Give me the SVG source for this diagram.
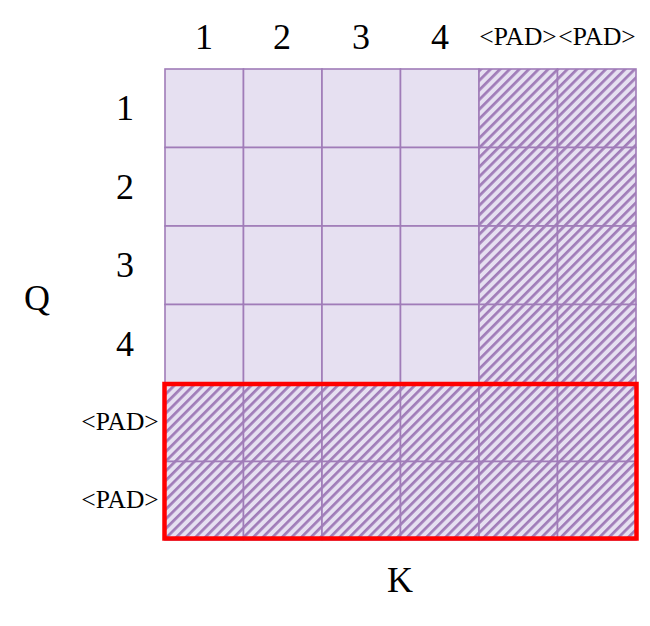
<svg xmlns="http://www.w3.org/2000/svg" width="650" height="626" viewBox="0 0 650 626">
<style>
.c{fill:#E6E0F1;stroke:#A07CB8;stroke-width:1.6}
.p{fill:url(#hatch);stroke:#A07CB8;stroke-width:1.6}
.t{font-family:"Liberation Serif","Times New Roman",serif;fill:#000;text-anchor:middle}
.big{font-size:36px}
.sm{font-size:25.5px}
</style>
<defs>
<pattern id="hatch" patternUnits="userSpaceOnUse" width="6.8" height="6.8" patternTransform="rotate(45)">
<rect width="6.8" height="6.8" fill="#E6E0F1"/>
<rect x="0" y="0" width="2.7" height="6.8" fill="#A07CB8"/>
</pattern>
</defs>
<rect width="650" height="626" fill="#fff"/>
<g id="grid">
<g id="row1">
<rect class="c" x="165" y="69" width="78.5" height="78.5"/>
<rect class="c" x="243.5" y="69" width="78.5" height="78.5"/>
<rect class="c" x="322" y="69" width="78.5" height="78.5"/>
<rect class="c" x="400.5" y="69" width="78.5" height="78.5"/>
<rect class="p" x="479" y="69" width="78.5" height="78.5"/>
<rect class="p" x="557.5" y="69" width="78.5" height="78.5"/>
</g>
<g id="row2">
<rect class="c" x="165" y="147.5" width="78.5" height="78.5"/>
<rect class="c" x="243.5" y="147.5" width="78.5" height="78.5"/>
<rect class="c" x="322" y="147.5" width="78.5" height="78.5"/>
<rect class="c" x="400.5" y="147.5" width="78.5" height="78.5"/>
<rect class="p" x="479" y="147.5" width="78.5" height="78.5"/>
<rect class="p" x="557.5" y="147.5" width="78.5" height="78.5"/>
</g>
<g id="row3">
<rect class="c" x="165" y="226" width="78.5" height="78.5"/>
<rect class="c" x="243.5" y="226" width="78.5" height="78.5"/>
<rect class="c" x="322" y="226" width="78.5" height="78.5"/>
<rect class="c" x="400.5" y="226" width="78.5" height="78.5"/>
<rect class="p" x="479" y="226" width="78.5" height="78.5"/>
<rect class="p" x="557.5" y="226" width="78.5" height="78.5"/>
</g>
<g id="row4">
<rect class="c" x="165" y="304.5" width="78.5" height="78.5"/>
<rect class="c" x="243.5" y="304.5" width="78.5" height="78.5"/>
<rect class="c" x="322" y="304.5" width="78.5" height="78.5"/>
<rect class="c" x="400.5" y="304.5" width="78.5" height="78.5"/>
<rect class="p" x="479" y="304.5" width="78.5" height="78.5"/>
<rect class="p" x="557.5" y="304.5" width="78.5" height="78.5"/>
</g>
<g id="row5">
<rect class="p" x="165" y="383" width="78.5" height="78.5"/>
<rect class="p" x="243.5" y="383" width="78.5" height="78.5"/>
<rect class="p" x="322" y="383" width="78.5" height="78.5"/>
<rect class="p" x="400.5" y="383" width="78.5" height="78.5"/>
<rect class="p" x="479" y="383" width="78.5" height="78.5"/>
<rect class="p" x="557.5" y="383" width="78.5" height="78.5"/>
</g>
<g id="row6">
<rect class="p" x="165" y="461.5" width="78.5" height="78.5"/>
<rect class="p" x="243.5" y="461.5" width="78.5" height="78.5"/>
<rect class="p" x="322" y="461.5" width="78.5" height="78.5"/>
<rect class="p" x="400.5" y="461.5" width="78.5" height="78.5"/>
<rect class="p" x="479" y="461.5" width="78.5" height="78.5"/>
<rect class="p" x="557.5" y="461.5" width="78.5" height="78.5"/>
</g>
</g>
<g id="highlight">
<rect x="164.5" y="384" width="472" height="154.5" fill="none" stroke="#FF0000" stroke-width="4.5"/>
</g>
<g id="col-labels">
<text class="t big" x="204" y="49">1</text>
<text class="t big" x="282" y="49">2</text>
<text class="t big" x="361" y="49">3</text>
<text class="t big" x="440" y="49">4</text>
<text class="t sm" x="518" y="45">&lt;PAD&gt;</text>
<text class="t sm" x="597" y="45">&lt;PAD&gt;</text>
</g>
<g id="row-labels">
<text class="t big" x="125" y="120">1</text>
<text class="t big" x="125" y="199">2</text>
<text class="t big" x="125" y="277">3</text>
<text class="t big" x="125" y="356">4</text>
<text class="t sm" x="120" y="430">&lt;PAD&gt;</text>
<text class="t sm" x="120" y="508">&lt;PAD&gt;</text>
</g>
<g id="axis-labels">
<text class="t big" x="37" y="310">Q</text>
<text class="t big" x="400" y="592">K</text>
</g>
</svg>
